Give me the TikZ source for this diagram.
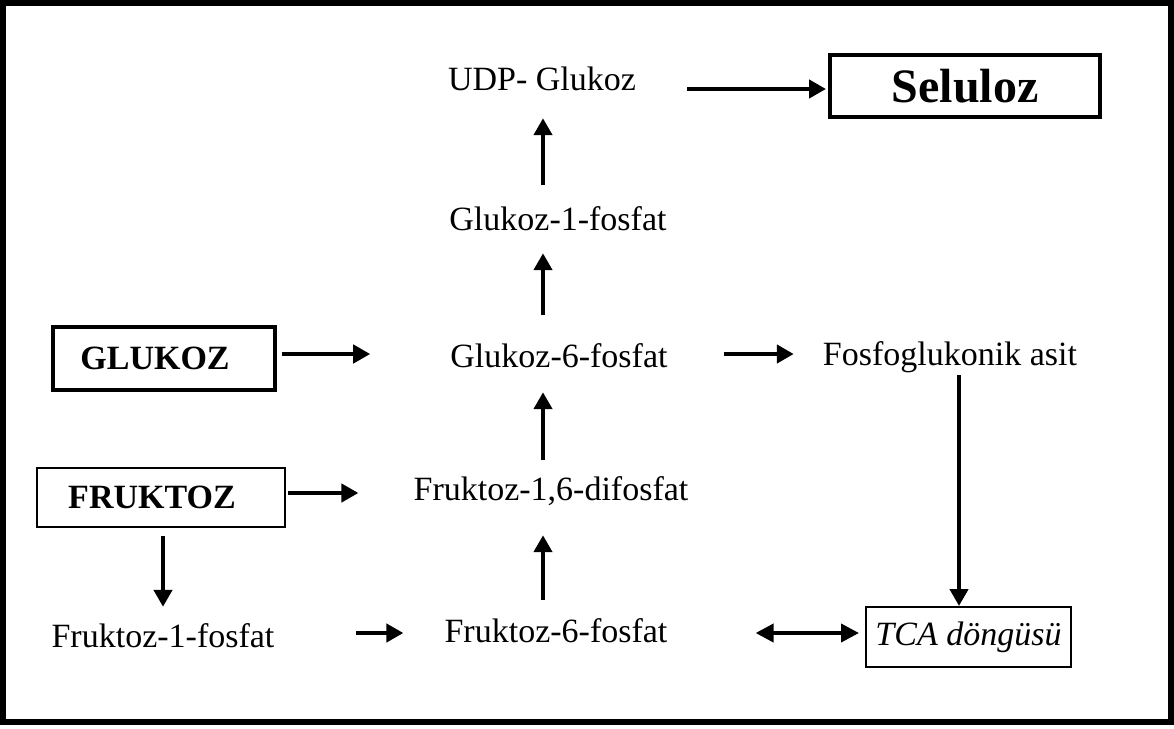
\documentclass[tikz,border=0pt]{standalone}
\usepackage{fontspec}
\setmainfont{Liberation Serif}
\usetikzlibrary{arrows.meta}
\newcommand\fsz{\fontsize{34}{40}\selectfont}
\begin{document}
\begin{tikzpicture}[x=1pt,y=-1pt,
  txt/.style={inner sep=0pt, text height=24pt, text depth=8pt, font=\fsz, anchor=base},
  thickbox/.style={draw, line width=4pt, inner sep=0pt, font=\fsz\bfseries},
  thinbox/.style={draw, line width=2pt, inner sep=0pt, font=\fsz},
  arr/.style={line width=4.5pt, -{Triangle[length=17pt,width=18pt]}},
  darr/.style={line width=4pt, {Triangle[length=18pt,width=18pt]}-{Triangle[length=18pt,width=18pt]}}]
\useasboundingbox[fill=white] (0,0) rectangle (1174,728);
\draw[line width=6pt] (3,3) rectangle (1170.5,721.5);
% helper coordinates
\coordinate (col) at (543,0);
\coordinate (col2) at (959,0);
\coordinate (rU) at (0,89);
\coordinate (rG) at (0,354);
\coordinate (rF) at (0,493);
\coordinate (rB) at (0,633);
% nodes
\node[txt] (udp) at (542,90) {UDP- Glukoz};
\node[thickbox, minimum width=270pt, minimum height=62pt] (sel) at (965,86) {\fontsize{48}{50}\selectfont Seluloz};
\node[txt] (g1p) at (558,230) {Glukoz-1-fosfat};
\node[txt] (g6p) at (559,367) {Glukoz-6-fosfat};
\node[thickbox, minimum width=222pt, minimum height=63pt] (glukoz) at (164,358.5) {GLUKOZ\hspace*{18pt}};
\node[txt] (fos) at (950,365) {Fosfoglukonik asit};
\node[thinbox, minimum width=248pt, minimum height=59pt, font=\fsz\bfseries] (fruktoz) at (161,497.5) {FRUKTOZ\hspace*{18pt}};
\node[txt] (f16) at (551,500) {Fruktoz-1,6-difosfat};
\node[txt] (f1p) at (163,647) {Fruktoz-1-fosfat};
\node[txt] (f6p) at (556,642) {Fruktoz-6-fosfat};
\node[thinbox, minimum width=205pt, minimum height=60pt] (tca) at (968.5,637) {\itshape TCA döngüsü};
% vertical arrows
\draw[arr, shorten <=21pt, shorten >=20pt] (g1p.north -| col) -- (udp.south -| col);
\draw[arr, shorten <=28pt, shorten >=15pt] (g6p.north -| col) -- (g1p.south -| col);
\draw[arr, shorten <=16pt, shorten >=17pt] (f16.north -| col) -- (g6p.south -| col);
\draw[arr, shorten <=18pt, shorten >=27pt] (f6p.north -| col) -- (f16.south -| col);
\draw[arr, shorten <=8pt, shorten >=16pt] (fruktoz.south -| f1p) -- (f1p.north);
\draw[arr, shorten <=2pt] (fos.south -| col2) -- (tca.north -| col2);
% horizontal arrows
\draw[arr, shorten <=51pt, shorten >=2pt] (udp.east |- rU) -- (sel.west |- rU);
\draw[arr, shorten <=5pt, shorten >=80pt] (glukoz.east |- rG) -- (g6p.west |- rG);
\draw[arr, shorten <=56pt, shorten >=29pt] (g6p.east |- rG) -- (fos.west |- rG);
\draw[arr, shorten <=2pt, shorten >=55pt] (fruktoz.east |- rF) -- (f16.west |- rF);
\draw[arr, shorten <=81pt, shorten >=41pt] (f1p.east |- rB) -- (f6p.west |- rB);
\draw[darr, shorten <=88pt, shorten >=6pt] (f6p.east |- rB) -- (tca.west |- rB);
\end{tikzpicture}
\end{document}
